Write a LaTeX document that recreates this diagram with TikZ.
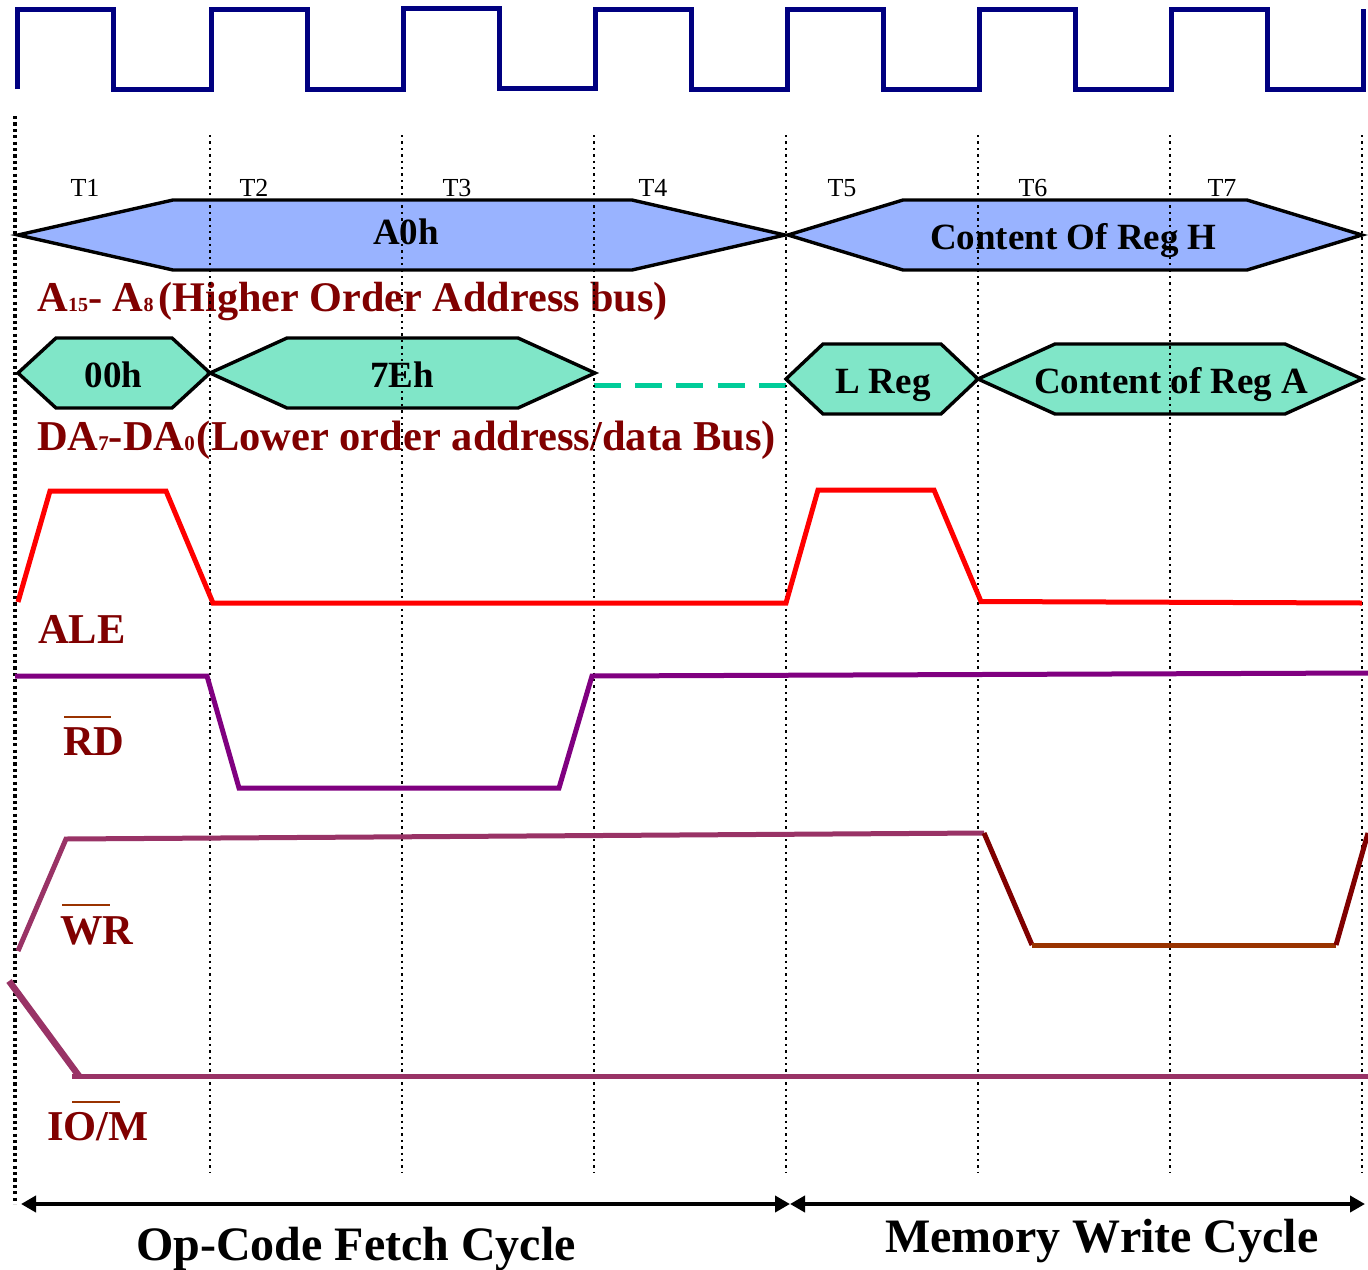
\documentclass[tikz,border=0pt]{standalone}
\usepackage{fontspec}
\setmainfont{Liberation Serif}
\usetikzlibrary{arrows.meta}
\definecolor{clk}{HTML}{000080}
\definecolor{busblue}{HTML}{99B3FF}
\definecolor{busgreen}{HTML}{80E6C8}
\definecolor{dashgreen}{HTML}{00CC99}
\definecolor{lab}{HTML}{800000}
\definecolor{ovl}{HTML}{993300}
\definecolor{plum}{HTML}{993366}
\definecolor{rdp}{HTML}{800080}
\newcommand{\fs}[1]{\fontsize{#1}{#1}\selectfont}
\tikzset{
  x=1pt,y=-1pt,
  txt/.style={anchor=base west,inner sep=0pt,outer sep=0pt},
  tick/.style={txt,font=\fs{26}},
  buslab/.style={txt,font=\fs{37}\bfseries},
  sig/.style={txt,font=\fs{42.5}\bfseries,text=lab},
  cyc/.style={txt,font=\fs{48}\bfseries},
  wave/.style={line width=5pt,line join=miter},
  busshape/.style={draw=black,line width=3.4pt,line join=miter},
  guide/.style={line width=2.4pt,dash pattern=on 2.4pt off 4pt,black},
  guidefat/.style={line width=3.6pt,dash pattern=on 3.2pt off 3.2pt,black},
  span/.style={line width=4.6pt,{Triangle[length=15pt,width=16pt]}-{Triangle[length=15pt,width=16pt]}},
}
\begin{document}
\begin{tikzpicture}
\useasboundingbox (0,0) rectangle (1368,1269);
% clock
\draw[clk,line width=5pt,line cap=butt,line join=miter]
 (17.5,89)--(17.5,9)--(113.5,9)--(113.5,89)--(211.5,89)--(211.5,9)--(307.5,9)--(307.5,89)--(403.5,89)--(403.5,8)--(499.5,8)--(499.5,88)--(595.5,88)--(595.5,9)--(691.5,9)--(691.5,89)--(787.5,89)--(787.5,9)--(883.5,9)--(883.5,89)--(979.5,89)--(979.5,9)--(1075.5,9)--(1075.5,89)--(1171.5,89)--(1171.5,9)--(1267.5,9)--(1267.5,89)--(1363.5,89)--(1363.5,9);
% buses
\draw[busshape,fill=busblue] (18,235)--(173,200)--(632,200)--(785,235)--(632,270)--(173,270)--cycle;
\draw[busshape,fill=busblue] (788,235)--(903,200)--(1247,200)--(1362,235)--(1247,270)--(903,270)--cycle;
\draw[busshape,fill=busgreen] (18,373)--(56,338)--(172,338)--(210,373)--(172,408)--(56,408)--cycle;
\draw[busshape,fill=busgreen] (210,373)--(287,338)--(518,338)--(595,373)--(518,408)--(287,408)--cycle;
\draw[busshape,fill=busgreen] (786,379)--(823,344)--(941,344)--(978,379)--(941,414)--(823,414)--cycle;
\draw[busshape,fill=busgreen] (978,379)--(1055,344)--(1285,344)--(1362,379)--(1285,414)--(1055,414)--cycle;
\draw[dashgreen,line width=5pt,dash pattern=on 27pt off 14.2pt] (594,385.5)--(786,385.5);
% labels under guides
\node[buslab] (a0h) at (373,244) {A0h};
\node[buslab] (regh) at (930,249) {Content Of Reg H};
\node[buslab] (h00) at (84.5,387.5) {00h};
\node[buslab] (h7e) at (370,387.5) {7Eh};
\node[buslab] (lreg) at (835,393.5) {L Reg};
\node[buslab] (rega) at (1034,393.5) {Content of Reg A};
\node[sig] (hi) at (37.5,311) {A{\fs{20}15}- A{\fs{20}8}\kern5pt{\fs{42.2}(Higher Order Address bus)}};
\node[sig] (lo) at (37,450) {DA{\fs{21}7}-DA{\fs{21}0}\kern2pt(Lower order address/data Bus)};
\node[sig] (ale) at (38,643) {ALE};
\node[sig] (rd) at (63,755.5) {RD};
\node[sig] (wr) at (60,944.5) {WR};
\node[sig] (iom) at (47,1140) {IO/M};
% guides
\draw[guidefat] (15,116)--(15,1204);
\foreach \gx in {210,402,594,786,978,1170,1362}
  \draw[guide] (\gx,135)--(\gx,1173);
% ticks
\node[tick] (t1) at (70.5,196) {T1};
\node[tick] (t2) at (239.5,196) {T2};
\node[tick] (t3) at (442.5,196) {T3};
\node[tick] (t4) at (638.5,196) {T4};
\node[tick] (t5) at (827.5,196) {T5};
\node[tick] (t6) at (1018.5,196) {T6};
\node[tick] (t7) at (1207.5,196) {T7};
% signals
\draw[wave,red] (18,602)--(50,491)--(166,491)--(213,603)--(786,603)--(818,490)--(934,490)--(981,601.5)--(1362,603);
\draw[wave,rdp] (15,676)--(207,676)--(239,788)--(559,788)--(592,676)--(1368,673);
\draw[wave,plum] (18,951)--(66,839)--(984,833);
\draw[wave,lab] (984,833)--(1032,945);
\draw[wave,ovl] (1032,945)--(1336,945);
\draw[wave,lab] (1336,945)--(1368,833);
\draw[plum,line width=6.5pt] (9,981)--(79,1076);
\draw[wave,plum] (72,1076)--(1368,1076);
% overbars
\draw[ovl,line width=2.8pt] (64,717)--(111,717);
\draw[ovl,line width=2.8pt] (62,905)--(110,905);
\draw[ovl,line width=2.8pt] (72,1102)--(120,1102);
% cycles
\coordinate (c0) at (21,1204);
\coordinate (c1) at (790,1204);
\coordinate (c2) at (1365,1204);
\draw[span] (c0)--(c1);
\draw[span] (c1)--(c2);
\node[cyc] (op) at (136,1260) {Op-Code Fetch Cycle};
\node[cyc] (mem) at (885,1252) {Memory Write Cycle};
\end{tikzpicture}
\end{document}
